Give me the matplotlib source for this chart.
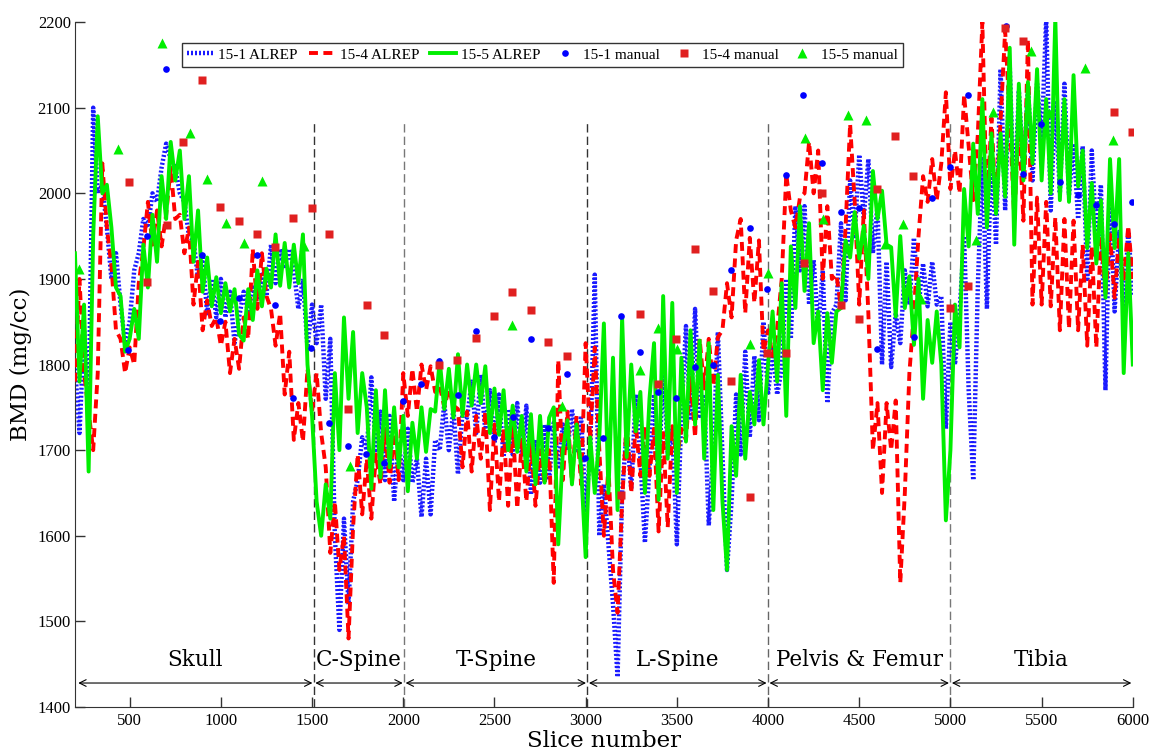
import matplotlib
matplotlib.use("Agg")
import matplotlib.pyplot as plt
import numpy as np

# slice grid of the three ALREP profiles (one value every 25 slices)
slices = np.arange(200, 6001, 25)

bmd_15_1 = [
    1800, 1720, 1840, 1750, 2100, 2000, 2010, 1960, 1900, 1930,   # 200-425
    1870, 1825, 1850, 1910, 1930, 1970, 1960, 2000, 1990, 2030,   # 450-675
    2058, 2040, 2030, 2000, 1990, 1950, 1945, 1900, 1925, 1860,   # 700-925
    1900, 1855, 1900, 1855, 1885, 1825, 1855, 1885, 1860, 1890,   # 950-1175
    1875, 1905, 1880, 1940, 1895, 1935, 1915, 1935, 1910, 1865,   # 1200-1425
    1900, 1820, 1870, 1825, 1870, 1760, 1830, 1600, 1490, 1620,   # 1450-1675
    1520, 1640, 1665, 1715, 1700, 1785, 1700, 1745, 1665, 1740,   # 1700-1925
    1640, 1710, 1665, 1725, 1662, 1690, 1622, 1690, 1625, 1712,   # 1950-2175
    1700, 1755, 1700, 1748, 1672, 1745, 1738, 1780, 1720, 1788,   # 2200-2425
    1722, 1770, 1708, 1765, 1692, 1748, 1695, 1755, 1692, 1752,   # 2450-2675
    1648, 1712, 1662, 1730, 1665, 1732, 1678, 1730, 1700, 1748,   # 2700-2925
    1700, 1740, 1630, 1700, 1905, 1600, 1660, 1590, 1520, 1435,   # 2950-3175
    1650, 1725, 1655, 1765, 1690, 1592, 1680, 1765, 1655, 1805,   # 3200-3425
    1695, 1725, 1590, 1740, 1845, 1735, 1865, 1740, 1765, 1612,   # 3450-3675
    1700, 1838, 1695, 1560, 1640, 1765, 1695, 1815, 1715, 1810,   # 3700-3925
    1735, 1850, 1765, 1818, 1765, 1795, 1900, 1830, 1985, 1910,   # 3950-4175
    1985, 1870, 1922, 1840, 1910, 1755, 1860, 1870, 1965, 1875,   # 4200-4425
    2015, 1950, 2045, 1972, 2040, 1930, 1985, 1800, 1920, 1797,   # 4450-4675
    1860, 1825, 1910, 1870, 1948, 1868, 1918, 1868, 1920, 1870,   # 4700-4925
    1880, 1725, 1850, 1800, 1860, 1950, 1770, 1665, 1890, 2040,   # 4950-5175
    1865, 2050, 1940, 2145, 1980, 2150, 1985, 2120, 2020, 2125,   # 5200-5425
    2015, 2128, 2060, 2205, 1980, 2108, 2000, 2128, 1998, 2058,   # 5450-5675
    1970, 2055, 1900, 2050, 1950, 2010, 1770, 2010, 1862, 1955,   # 5700-5925
    1860, 1955, 1880,                                             # 5950-6000
]

bmd_15_4 = [
    1780, 1900, 1790, 1745, 1700, 1790, 2035, 1960, 1915, 1840,
    1830, 1790, 1820, 1800, 1895, 1935, 1990, 1940, 1980, 1938,
    1975, 2030, 1970, 1975, 1930, 1960, 1870, 1920, 1840, 1875,
    1845, 1855, 1822, 1850, 1790, 1830, 1795, 1855, 1830, 1935,
    1865, 1930, 1880, 1865, 1822, 1860, 1765, 1815, 1712, 1755,
    1710, 1795, 1745, 1790, 1720, 1680, 1580, 1640, 1560, 1600,
    1480, 1610, 1695, 1625, 1690, 1620, 1695, 1660, 1725, 1662,
    1720, 1665, 1790, 1740, 1795, 1745, 1800, 1770, 1798, 1768,
    1775, 1750, 1772, 1752, 1748, 1680, 1745, 1675, 1740, 1690,
    1745, 1630, 1730, 1640, 1725, 1635, 1730, 1632, 1712, 1640,
    1710, 1635, 1700, 1660, 1700, 1545, 1805, 1665, 1745, 1662,
    1740, 1660, 1825, 1712, 1820, 1700, 1600, 1680, 1560, 1510,
    1640, 1735, 1650, 1730, 1670, 1728, 1670, 1725, 1605, 1720,
    1610, 1728, 1690, 1725, 1712, 1785, 1715, 1830, 1772, 1830,
    1775, 1832, 1840, 1895, 1855, 1945, 1970, 1860, 1948, 1872,
    1945, 1815, 1840, 1810, 1842, 1900, 2022, 1980, 1960, 1995,
    2000, 2060, 2000, 2050, 1900, 1985, 1900, 1905, 1866, 1960,
    2081, 1990, 1870, 1980, 1860, 1700, 1755, 1650, 1755, 1700,
    1758, 1545, 1650, 1790, 1862, 1950, 2020, 1990, 2040, 1992,
    2035, 2118, 2005, 2050, 2000, 2115, 2055, 1992, 2068, 2200,
    1978, 2088, 1980, 2085, 2190, 2090, 1970, 2085, 1968, 2180,
    1870, 1995, 1870, 1990, 1868, 1972, 1840, 1970, 1842, 1968,
    1840, 1940, 1822, 1938, 1820, 1950, 1880, 1952, 1878, 1950,
    1898, 1962, 1900,
]

bmd_15_5 = [
    1930, 1780, 1870, 1675, 1950, 2090, 2000, 2010, 1960, 1890,
    1880, 1815, 1830, 1865, 1830, 1940, 1890, 1975, 1920, 2020,
    1970, 2060, 2015, 2050, 1970, 2020, 1920, 1980, 1885, 1925,
    1868, 1902, 1860, 1895, 1862, 1888, 1835, 1828, 1888, 1852,
    1910, 1868, 1912, 1890, 1952, 1892, 1942, 1890, 1940, 1895,
    1952, 1800, 1740, 1640, 1600, 1660, 1620, 1790, 1700, 1855,
    1760, 1838, 1720, 1790, 1750, 1655, 1770, 1668, 1770, 1680,
    1750, 1680, 1740, 1652, 1732, 1690, 1750, 1698, 1748, 1745,
    1805, 1748, 1795, 1738, 1812, 1740, 1800, 1752, 1800, 1755,
    1798, 1720, 1772, 1718, 1770, 1700, 1752, 1698, 1740, 1675,
    1742, 1660, 1740, 1662, 1738, 1750, 1590, 1700, 1735, 1660,
    1730, 1680, 1575, 1715, 1650, 1715, 1848, 1650, 1808, 1630,
    1855, 1692, 1800, 1722, 1768, 1650, 1760, 1825, 1642, 1880,
    1690, 1872, 1650, 1808, 1710, 1840, 1730, 1828, 1690, 1825,
    1630, 1788, 1640, 1560, 1728, 1670, 1788, 1690, 1768, 1730,
    1805, 1730, 1800, 1862, 1780, 1895, 1740, 1938, 1866, 1985,
    1886, 1965, 1825, 1862, 1770, 1860, 1802, 1862, 1866, 1945,
    1925, 1978, 1924, 1962, 1900, 2026, 1970, 2003, 1940, 1937,
    1856, 1950, 1866, 1903, 1823, 1900, 1760, 1852, 1802, 1862,
    1800, 1618, 1700, 1870, 1820, 2005, 1938, 2058, 1976, 2110,
    1960, 2070, 1976, 2070, 1996, 2170, 1940, 2128, 2015, 2130,
    2035, 2145, 2015, 2110, 2000, 2205, 1992, 2110, 1990, 2138,
    2008, 2050, 1936, 2012, 1918, 1992, 1878, 2040, 1936, 2040,
    1790, 1930, 1800,
]

# manual measurements
man_15_1_x = [491, 594, 699, 896, 995, 1099, 1197, 1296, 1394, 1496, 1592, 1696,
              1798, 1894, 1997, 2096, 2195, 2299, 2397, 2496, 2600, 2699, 2795,
              2896, 2996, 3094, 3196, 3296, 3396, 3498, 3598, 3697, 3799, 3899,
              3996, 4097, 4194, 4295, 4398, 4497, 4596, 4798, 4899, 5000, 5094,
              5302, 5396, 5498, 5598, 5697, 5800, 5899, 5998]
man_15_1_y = [1817, 1950, 2145, 1928, 1851, 1878, 1928, 1870, 1761, 1819, 1732, 1705,
              1695, 1685, 1757, 1777, 1804, 1765, 1839, 1715, 1739, 1830, 1726,
              1789, 1691, 1714, 1857, 1815, 1768, 1761, 1797, 1800, 1911, 1959,
              1888, 2021, 2115, 2035, 1978, 1983, 1818, 1832, 1994, 2031, 2115,
              2196, 2022, 2081, 2013, 1998, 1986, 1964, 1990]

man_15_4_x = [496, 594, 704, 794, 896, 998, 1097, 1197, 1296, 1395, 1499, 1593,
              1695, 1799, 1894, 2195, 2295, 2397, 2497, 2596, 2698, 2796, 2896,
              3196, 3296, 3396, 3498, 3597, 3697, 3799, 3899, 3992, 4096, 4195,
              4295, 4398, 4497, 4596, 4698, 4795, 4998, 5094, 5299, 5398, 5899,
              5998]
man_15_4_y = [2013, 1896, 1963, 2060, 2132, 1984, 1968, 1953, 1937, 1971, 1983, 1953,
              1748, 1869, 1834, 1799, 1805, 1831, 1857, 1885, 1864, 1826, 1810,
              1648, 1859, 1777, 1830, 1935, 1886, 1781, 1645, 1813, 1813, 1919,
              2000, 1869, 1853, 2005, 2067, 2020, 1866, 1892, 2193, 2178, 2095,
              2072]

man_15_5_x = [220, 436, 677, 829, 926, 1027, 1129, 1228, 1456, 1707, 2598, 2868,
              3296, 3398, 3500, 3899, 3999, 4200, 4300, 4437, 4539, 4639, 4739,
              4840, 5140, 5236, 5440, 5538, 5740, 5890]
man_15_5_y = [1912, 2052, 2175, 2070, 2017, 1965, 1942, 2014, 1938, 1681, 1846, 1751,
              1794, 1843, 1818, 1824, 1907, 2065, 1970, 2091, 2086, 1941, 1964,
              1877, 1945, 2095, 2166, 2094, 2146, 2062]

regions = ["Skull", "C-Spine", "T-Spine", "L-Spine", "Pelvis & Femur", "Tibia"]
region_edges = [210, 1510, 2005, 3010, 4000, 5000, 6000]

plt.rcParams['font.family'] = 'serif'
plt.rcParams['font.serif'] = ['DejaVu Serif']

fig = plt.figure(figsize=(11.53, 7.51), dpi=100)
ax = fig.add_axes([0.065, 0.0586, 0.9175, 0.912])

ax.plot(slices, bmd_15_1, color='#1a1aff', lw=3.2, dashes=(0.45, 0.45),
        label='15-1 ALREP', zorder=2)
ax.plot(slices, bmd_15_4, color='#ff0000', lw=2.8, dashes=(2.3, 1.4),
        label='15-4 ALREP', zorder=3)
ax.plot(slices, bmd_15_5, color='#00ee00', lw=2.8, label='15-5 ALREP', zorder=4)
ax.plot(man_15_1_x, man_15_1_y, 'o', color='#0000ff', ms=4.8, mec='none',
        label='15-1 manual', zorder=6)
ax.plot(man_15_4_x, man_15_4_y, 's', color='#e02020', ms=5.2, mec='none',
        label='15-4 manual', zorder=6)
ax.plot(man_15_5_x, man_15_5_y, '^', color='#00ee00', ms=7.5, mec='none',
        label='15-5 manual', zorder=6)

# region boundaries
bcolors = ['#333333', '#777777', '#333333', '#666666', '#777777']
for b, c in zip(region_edges[1:-1], bcolors):
    ax.plot([b, b], [1400, 2085], color=c, lw=1.0, dashes=(6, 3), zorder=1)

# region arrows and names
for name, a, b in zip(regions, region_edges[:-1], region_edges[1:]):
    ax.annotate('', xy=(a + 8, 1428), xytext=(b - 8, 1428),
                arrowprops=dict(arrowstyle='<->', color='black', lw=0.8,
                                shrinkA=0, shrinkB=0, mutation_scale=12))
    ax.text((a + b) / 2, 1455, name, ha='center', va='center', fontsize=15.5)

ax.set_xlim(200, 6000)
ax.set_ylim(1400, 2200)
ax.set_xticks(np.arange(500, 6001, 500))
ax.set_yticks(np.arange(1400, 2201, 100))
ax.tick_params(direction='in', length=7, width=1, color='#333333', pad=4)
for lab in ax.get_xticklabels() + ax.get_yticklabels():
    lab.set_family('Liberation Serif')
    lab.set_fontsize(12)
ax.tick_params(axis='y', pad=3)
ax.spines['top'].set_visible(False)
ax.spines['right'].set_visible(False)
ax.spines['left'].set_color('#333333')
ax.spines['bottom'].set_color('#333333')

ax.set_xlabel('Slice number', fontsize=16.5, labelpad=1)
ax.set_ylabel('BMD (mg/cc)', fontsize=16.5, labelpad=4)

leg = ax.legend(loc='upper left', bbox_to_anchor=(0.101, 0.97), ncol=6,
                frameon=True, fancybox=False, edgecolor='black',
                prop={'family': 'Liberation Serif', 'size': 11},
                handlelength=1.7, handletextpad=0.35, columnspacing=0.7,
                borderpad=0.35, borderaxespad=0)
leg.get_frame().set_linewidth(1.0)
leg.set_zorder(10)

plt.savefig('out.png', dpi=100)
